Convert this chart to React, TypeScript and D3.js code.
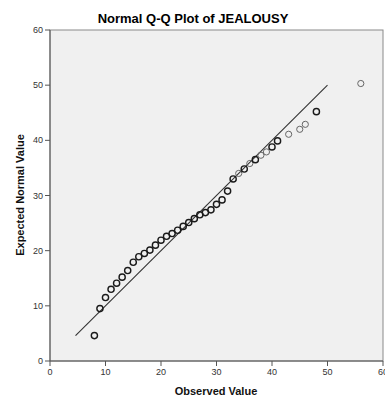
import React from "react";
import * as d3 from "d3";

const title = "Normal Q-Q Plot of JEALOUSY";
const xTitle = "Observed Value";
const yTitle = "Expected Normal Value";
const xTicks = [0, 10, 20, 30, 40, 50, 60];
const yTicks = [0, 10, 20, 30, 40, 50, 60];
const observed = [8, 9, 10, 11, 12, 13, 14, 15, 16, 17, 18, 19, 20, 21, 22, 23, 24, 25, 26, 27, 28, 29, 30, 31, 32, 33, 34, 35, 36, 37, 38, 39, 40, 41, 43, 45, 46, 48, 56];
const expected = [4.6, 9.5, 11.5, 13.0, 14.1, 15.2, 16.4, 17.9, 18.9, 19.5, 20.1, 21.0, 21.9, 22.6, 23.1, 23.7, 24.4, 25.1, 25.8, 26.5, 26.9, 27.4, 28.4, 29.2, 30.8, 33.0, 34.0, 34.8, 35.8, 36.5, 37.3, 37.9, 38.8, 39.9, 41.1, 42.0, 42.9, 45.2, 50.3];
const caseCounts = [2, 2, 2, 2, 2, 2, 2, 2, 2, 2, 2, 2, 2, 2, 2, 2, 2, 2, 2, 2, 2, 2, 2, 2, 2, 2, 1, 2, 1, 2, 1, 1, 2, 2, 1, 1, 1, 2, 1];
const refLine = [4.6, 50];

export default function App() {
  const W = 385, H = 400;
  const x = d3.scaleLinear().domain([0, 60]).range([50, 383]);
  const y = d3.scaleLinear().domain([0, 60]).range([361, 30]);
  const line = d3.line<number>().x((d) => x(d)).y((d) => y(d));
  const font = "'Liberation Sans', Arial, sans-serif";
  return (
    <svg width={W} height={H} style={{ position: "absolute", left: 0, top: 0, background: "#fff" }} fontFamily={font}>
      <rect x={x(0)} y={y(60)} width={x(60) - x(0)} height={y(0) - y(60)} fill="#F0F0F0" stroke="#8a8a8a" strokeWidth={1} />
      <text x={193} y={23} textAnchor="middle" fontSize={13} fontWeight="bold" fill="#000">{title}</text>
      {yTicks.map((t) => (
        <g key={"y" + t}>
          <line x1={x(0) - 5} x2={x(0)} y1={y(t)} y2={y(t)} stroke="#555" />
          <text x={x(0) - 7} y={y(t) + 3} textAnchor="end" fontSize={9} fill="#333">{t}</text>
        </g>
      ))}
      {xTicks.map((t) => (
        <g key={"x" + t}>
          <line x1={x(t)} x2={x(t)} y1={y(0)} y2={y(0) + 5} stroke="#555" />
          <text x={x(t)} y={375} textAnchor="middle" fontSize={9} fill="#333">{t}</text>
        </g>
      ))}
      <line x1={x(0)} x2={x(60)} y1={y(0)} y2={y(0)} stroke="#555" />
      <line x1={x(0)} x2={x(0)} y1={y(0)} y2={y(60)} stroke="#555" />
      <path d={line(refLine) || ""} stroke="#333" strokeWidth={1.1} fill="none" />
      {observed.map((o, i) => (
        <circle key={"p" + i} cx={x(o)} cy={y(expected[i])} r={3.1}
          fill="none" stroke={caseCounts[i] > 1 ? "#1a1a1a" : "#666"} strokeWidth={caseCounts[i] > 1 ? 1.4 : 1} />
      ))}
      <text x={216} y={395} textAnchor="middle" fontSize={11} fontWeight="bold" fill="#111">{xTitle}</text>
      <text transform={`translate(24,${195}) rotate(-90)`} textAnchor="middle" fontSize={11} fontWeight="bold" fill="#111">{yTitle}</text>
    </svg>
  );
}
